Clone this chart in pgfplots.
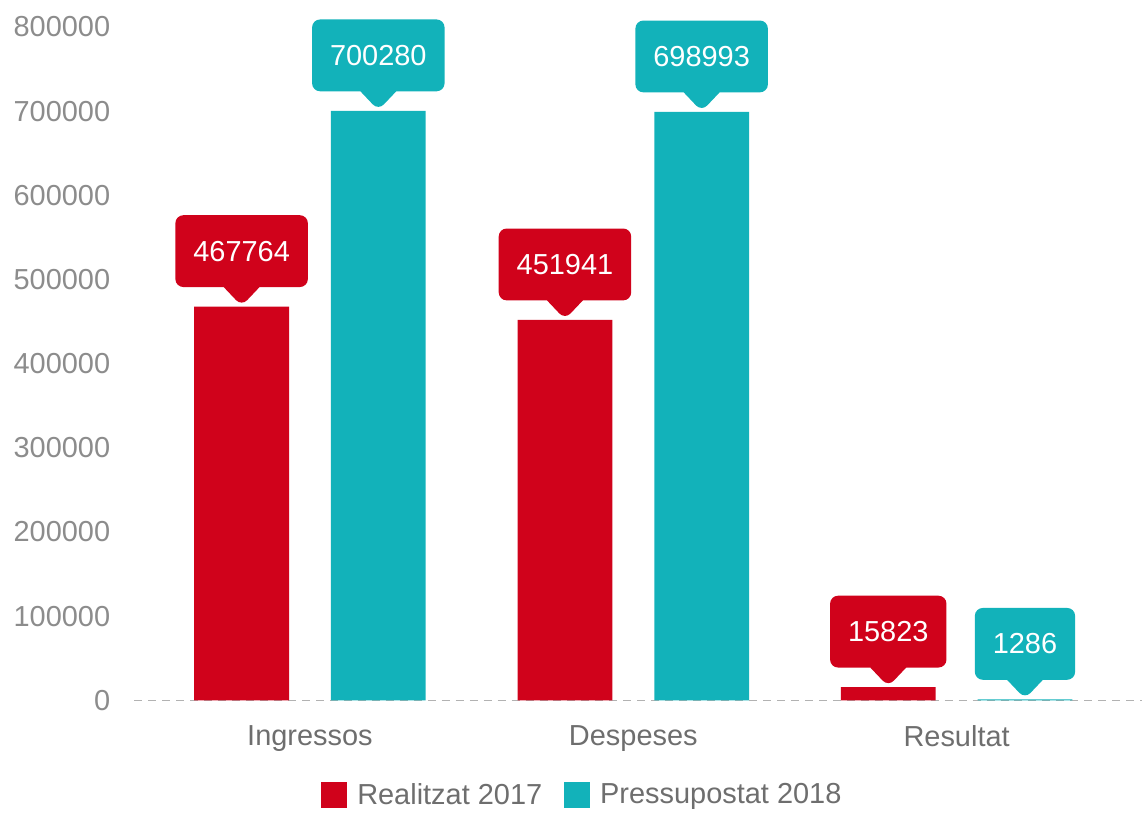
\documentclass[border={3.5pt 0pt 0pt 5pt}]{standalone}
\usepackage{pgfplots}
\pgfplotsset{compat=1.18}
\usepackage{fontspec}
\setmainfont{Liberation Sans}
\usetikzlibrary{shapes.callouts}
\definecolor{cred}{RGB}{208,2,27}
\definecolor{cteal}{RGB}{18,178,186}
\definecolor{tickgray}{RGB}{140,140,140}
\definecolor{labgray}{RGB}{110,110,110}
\newcommand\fs{\fontsize{14.5}{17}\selectfont}
\begin{document}
\begin{tikzpicture}
\begin{axis}[
  scale only axis, width=505pt, height=337.5pt,
  xmin=-0.543, xmax=2.574, ymin=0, ymax=800000,
  ybar=21pt, bar width=47.5pt,
  axis x line*=bottom, axis y line*=left,
  x axis line style={draw=gray!60, dash pattern=on 4pt off 3pt, line width=0.8pt},
  y axis line style={draw=none},
  xtick={0,1,2}, xticklabels={Ingressos,Despeses,Resultat},
  ytick={0,100000,...,800000},
  scaled y ticks=false,
  /pgf/number format/assume math mode=true,
  yticklabel style={/pgf/number format/fixed, /pgf/number format/1000 sep={}, text=tickgray, font=\fs, xshift=-8.6pt},
  xticklabel style={text=labgray, font=\fs, yshift=-9pt},
  major tick length=0pt,
  tick style={draw=none},
  clip=false,
  legend style={at={(0.4455,-0.1407)}, anchor=center, draw=none, legend columns=-1, font=\fs, text=labgray,
    /tikz/every even column/.append style={column sep=9pt},
    /tikz/every odd column/.append style={column sep=3pt}},
  legend image code/.code={\fill[#1] (0pt,-6.5pt) rectangle (13pt,6.5pt);},
  nodes near coords={\pgfmathprintnumber[fixed,precision=0,1000 sep={}]{\pgfplotspointmeta}},
  every node near coord/.append style={rectangle callout, rounded corners=4pt, text=white, font=\fs,
    anchor=pointer, callout relative pointer={(0pt,-9.5pt)}, callout pointer width=18pt,
    minimum height=36pt, inner xsep=9pt},
]
\addplot[fill=cred, draw=none, every node near coord/.append style={fill=cred}]
  coordinates {(0,467764) (1,451941) (2,15823)};
\addplot[fill=cteal, draw=none, every node near coord/.append style={fill=cteal}]
  coordinates {(0,700280) (1,698993) (2,1286)};
\legend{Realitzat 2017, Pressupostat 2018}
\end{axis}
\end{tikzpicture}
\end{document}
